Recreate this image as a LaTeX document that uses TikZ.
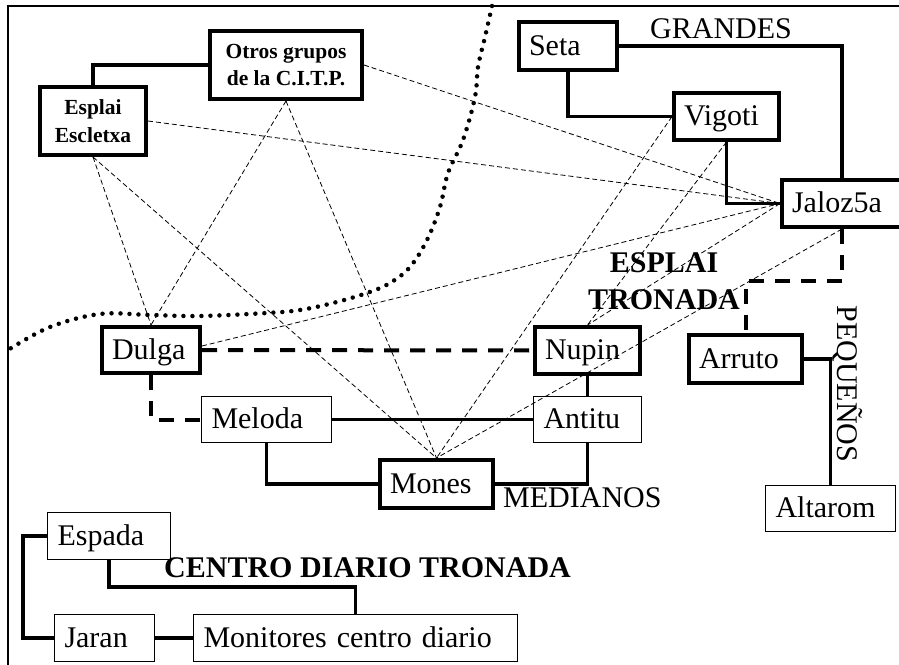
\documentclass[tikz,border=0pt]{standalone}
\usepackage{fontspec}
\setmainfont{Liberation Serif}
\usetikzlibrary{calc}
\begin{document}
\begin{tikzpicture}[x=1pt,y=-1pt,
  every node/.style={font=\fontsize{30}{36}\selectfont},
  tbox/.style={draw, line width=4pt, inner xsep=10pt, inner ysep=0pt, align=left, text height=24pt, text depth=6pt},
  nbox/.style={draw, line width=1.3pt, inner xsep=10pt, inner ysep=0pt, align=left, text height=24pt, text depth=6pt},
  sbox/.style={draw, line width=4pt, inner sep=0pt, align=center, font=\fontsize{21.5}{27.5}\selectfont\bfseries},
  lbl/.style={inner sep=0pt},
  conn/.style={line width=3.5pt},
  dconn/.style={line width=4pt, dash pattern=on 15pt off 11pt},
  rel/.style={line width=0.8pt, dash pattern=on 5pt off 3pt},
  dots/.style={line width=4.5pt, line cap=round, dash pattern=on 0pt off 9pt}
]
\useasboundingbox (0,0) rectangle (899,664);
\fill[white] (0,0) rectangle (899,664);
\begin{scope}
\clip (0,0) rectangle (899,664);
\draw[line width=2.5pt] (8,670) -- (8,6) -- (905,6);

% boxes
\node[sbox, minimum width=152pt, minimum height=68pt] (otros) at (286,65) {Otros grupos\\de la C.I.T.P.};
\node[sbox, minimum width=106pt, minimum height=68pt] (esplai) at (93,121) {Esplai\\Escletxa};
\node[tbox, text width=78pt, minimum height=48pt] (seta) at (568,46) {Seta};
\node[tbox, text width=85pt, minimum height=47pt] (vigoti) at (726.5,116.5) {Vigoti};
\node[tbox, text width=100pt, minimum height=47pt] (jal) at (842,203.5) {Jaloz5a};
\node[tbox, text width=93pt, minimum height=48pt] (arruto) at (745.5,359) {Arruto};
\node[nbox, text width=110pt, minimum height=46pt] (altarom) at (830.5,508.5) {Altarom};
\node[tbox, text width=85pt, minimum height=47pt] (nupin) at (587.5,350.5) {Nupin};
\node[tbox, text width=78pt, minimum height=46pt] (dulga) at (151,350) {Dulga};
\node[nbox, text width=110pt, minimum height=46pt] (meloda) at (266.5,419.5) {Meloda};
\node[nbox, text width=88pt, minimum height=46pt] (antitu) at (587.5,419.5) {Antitu};
\node[tbox, text width=93pt, minimum height=48pt] (mones) at (436.5,484) {Mones};
\node[nbox, text width=103pt, minimum height=47pt] (espada) at (109,536) {Espada};
\node[nbox, text width=80pt, minimum height=47pt] (jaran) at (104.5,638) {Jaran};
\node[nbox, text width=304pt, minimum height=47pt] (monitores) at (355.5,638) {Monitores centro diario};

% labels
\node[lbl, anchor=base west] (grandes) at (650,38) {GRANDES};
\node[lbl, align=center, font=\fontsize{30}{37}\selectfont\bfseries] (esplaitr) at (664,281.5) {ESPLAI\\TRONADA};
\node[lbl, rotate=-90] (peq) at (847.5,384) {PEQUEÑOS};
\node[lbl, anchor=base west] (med) at (503,507) {MEDIANOS};
\node[lbl, anchor=base west, font=\fontsize{30}{36}\selectfont\bfseries] (cdt) at (164,577) {CENTRO DIARIO TRONADA};

% dotted boundary
\draw[dots] plot[smooth, tension=0.6] coordinates {(492,6) (485,37) (478,67) (475,97) (463,140) (448,173) (440,207) (427,240) (410,267) (390,283) (367,293) (333,303) (300,310) (267,313) (200,316) (150,315) (100,314) (50,327) (8,350)};

% thin dashed relations
\draw[rel] (otros.east) -- (jal.west);
\draw[rel] (esplai.east) -- (jal.west);
\draw[rel] (esplai.south) -- (dulga.north);
\draw[rel] (esplai.south) -- (mones.north);
\draw[rel] (otros.south) -- (dulga.north);
\draw[rel] (otros.south) -- (mones.north);
\draw[rel] ($(dulga.east)+(0,-4)$) -- (jal.west);
\draw[rel] (vigoti.west) -- (mones.north);
\draw[rel] (vigoti.south) -- (nupin.north);
\draw[rel] (jal.west) -- (nupin.north);
\draw[rel] (jal.south) -- (mones.north);

% solid connectors
\draw[conn] (esplai.north) |- (otros.west);
\draw[conn] (seta.east) -| (jal.north);
\draw[conn] (seta.south) |- (vigoti.west);
\draw[conn] (vigoti.south) |- (jal.west);
\draw[conn] (arruto.east) -| (altarom.north);
\draw[conn] (meloda.east) -- (antitu.west);
\draw[conn] (nupin.south) -- (antitu.north);
\draw[conn] (meloda.south) |- (mones.west);
\draw[conn] (antitu.south) |- (mones.east);
\draw[conn] (espada.west) -- ++(-24,0) |- (jaran.west);
\draw[conn] (jaran.east) -- (monitores.west);
\draw[conn] (espada.south) -- ++(0,27) -| (monitores.north);

% thick dashed connectors
\draw[dconn] (jal.south) |- ($(arruto.north)+(0,-52)$) -- (arruto.north);
\draw[dconn] (dulga.east) -- (nupin.west);
\draw[dconn] (dulga.south) |- (meloda.west);
\end{scope}
\end{tikzpicture}
\end{document}
